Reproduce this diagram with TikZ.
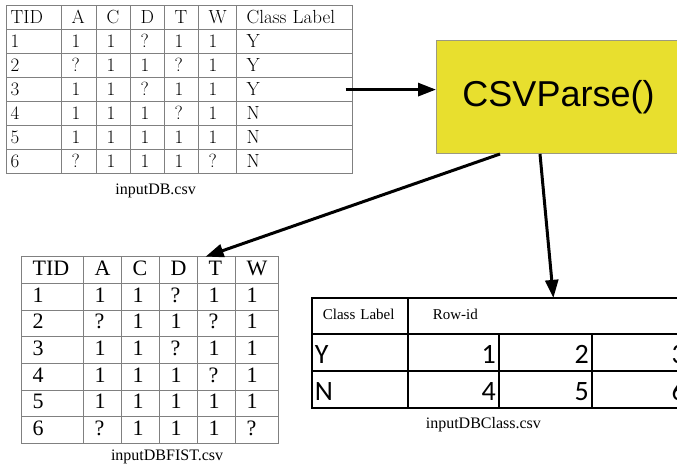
\documentclass[tikz,border=0pt]{standalone}
\usepackage{fontspec}
\usepackage{xcolor}
\usetikzlibrary{arrows.meta,matrix}
\newfontfamily\timesfont{Liberation Serif}
\newfontfamily\arialfont{Liberation Sans}
\newfontfamily\calibrifont{Carlito}
\definecolor{ParseFill}{HTML}{E8DF2E}
\definecolor{ParseRule}{HTML}{9C9A80}
\definecolor{GridGray}{HTML}{808080}

\begin{document}
\begin{tikzpicture}[x=1pt, y=-1pt,
  grid/.style={matrix of nodes, nodes in empty cells, inner sep=0pt,
    column sep=-0.8pt, row sep=-0.8pt, anchor=north west,
    nodes={draw=GridGray, line width=0.8pt, outer sep=0pt, inner ysep=0pt,
      align=left, text depth=0pt}},
  procbox/.style={draw=ParseRule, line width=1pt, fill=ParseFill, anchor=north west,
    minimum width=244pt, minimum height=113pt, inner sep=0pt,
    font=\arialfont\fontsize{36}{40}\selectfont},
  flow/.style={-{Triangle[length=18pt,width=13pt]}, line width=3pt},
  filecap/.style={font=\timesfont\fontsize{16}{18}\selectfont, anchor=base}
]
  \fill[white] (0,0) rectangle (677,465);
  \useasboundingbox (0,0) rectangle (677,465);

  \matrix (db) [grid, nodes={font=\fontsize{19}{21}\selectfont, minimum height=24pt,
      text height=12pt, inner xsep=10pt},
    column 1/.style={nodes={text width=47pt, inner xsep=4pt}},
    column 2/.style={nodes={text width=15pt}},
    column 3/.style={nodes={text width=14pt}},
    column 4/.style={nodes={text width=14pt}},
    column 5/.style={nodes={text width=14pt}},
    column 6/.style={nodes={text width=18pt}},
    column 7/.style={nodes={text width=96pt}}] at (6,5) {
    TID & A & C & D & T & W & Class Label \\
    1 & 1 & 1 & ? & 1 & 1 & Y \\
    2 & ? & 1 & 1 & ? & 1 & Y \\
    3 & 1 & 1 & ? & 1 & 1 & Y \\
    4 & 1 & 1 & 1 & ? & 1 & N \\
    5 & 1 & 1 & 1 & 1 & 1 & N \\
    6 & ? & 1 & 1 & 1 & ? & N \\
  };
  \node[filecap] (dbcap) at ([xshift=-24pt,yshift=-20pt]db.south) {inputDB.csv};

  \node[procbox] (parse) at (436,40) {CSVParse()};

  \matrix (fist) [grid, nodes={font=\timesfont\fontsize{22}{24}\selectfont,
      minimum height=26.7pt, text height=11pt, inner xsep=11pt},
    column 1/.style={nodes={text width=40pt}},
    column 2/.style={nodes={text width=16pt}},
    column 3/.style={nodes={text width=16pt}},
    column 4/.style={nodes={text width=16pt}},
    column 5/.style={nodes={text width=16pt}},
    column 6/.style={nodes={text width=21pt}}] at (21,256) {
    TID & A & C & D & T & W \\
    1 & 1 & 1 & ? & 1 & 1 \\
    2 & ? & 1 & 1 & ? & 1 \\
    3 & 1 & 1 & ? & 1 & 1 \\
    4 & 1 & 1 & 1 & ? & 1 \\
    5 & 1 & 1 & 1 & 1 & 1 \\
    6 & ? & 1 & 1 & 1 & ? \\
  };
  \node[filecap] (fistcap) at ([xshift=17pt,yshift=-16pt]fist.south) {inputDBFIST.csv};

  \matrix (cls) [grid, column sep=-1.4pt, row sep=-1.4pt,
    nodes={draw=black, line width=1.4pt,
      font=\calibrifont\fontsize{28}{30}\selectfont, minimum height=37pt,
      text height=22pt, inner xsep=3pt},
    column 1/.style={nodes={text width=90pt}},
    column 2/.style={nodes={text width=85pt, align=right}},
    column 3/.style={nodes={text width=87pt, align=right}},
    column 4/.style={nodes={text width=91pt, align=right}},
    row 1/.style={nodes={font=\timesfont\fontsize{15}{17}\selectfont,
      minimum height=36pt, text height=8pt, draw=none}},
    row 1 column 1/.style={nodes={draw=black, inner xsep=11pt, text width=74pt}},
    row 1 column 2/.style={nodes={align=left}}] at (311,297) {
    Class Label & \hspace*{22pt}Row-id & & \\
    Y & 1 & 2 & 3 \\
    N & 4 & 5 & 6 \\
  };
  \draw[line width=1.4pt] (cls-1-2.north west) rectangle (cls-1-4.south east);
  \node[filecap] (clscap) at ([xshift=-17pt,yshift=-20pt]cls.south) {inputDBClass.csv};

  \draw[flow] ([xshift=-7pt]db-4-7.east) -- (parse.west |- db-4-7.east);
  \draw[flow] ([xshift=64pt]parse.south west) -- ([xshift=8pt]fist-1-5.north west);
  \draw[flow] ([xshift=104pt]parse.south west) -- ([xshift=8pt]cls-1-3.north);
\end{tikzpicture}
\end{document}
